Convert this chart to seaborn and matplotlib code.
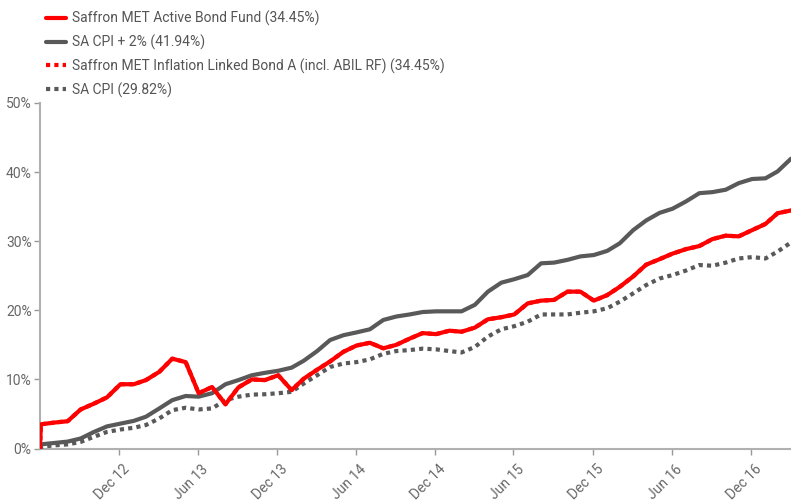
"""
Cumulative performance: Saffron MET Active Bond Fund vs SA CPI benchmarks.
Monthly cumulative returns (%) read off the factsheet chart.
"""

import pandas as pd
import matplotlib
matplotlib.use("Agg")
import matplotlib.pyplot as plt
import matplotlib.ticker as mticker
import matplotlib.transforms as mtrans
import seaborn as sns

# ------------------------------------------------------------------ data
dates = pd.date_range("2012-06-30", "2017-03-31", freq="ME")

active_bond = [3.5, 3.75, 3.95, 5.65, 6.5, 7.4, 9.3, 9.3, 9.9, 11.1,
               13.0, 12.5, 8.0, 8.9, 6.4, 8.85, 10.0, 9.9, 10.6, 8.45,
               10.1, 11.4, 12.6, 14.0, 14.9, 15.3, 14.5, 15.0, 15.9, 16.7,
               16.55, 17.05, 16.9, 17.5, 18.7, 19.0, 19.4, 21.0, 21.4, 21.5,
               22.7, 22.7, 21.4, 22.2, 23.4, 24.9, 26.6, 27.4, 28.2, 28.85,
               29.3, 30.3, 30.8, 30.7, 31.6, 32.5, 34.05, 34.45]

cpi_plus_2 = [0.6, 0.8, 1.0, 1.45, 2.4, 3.2, 3.6, 4.0, 4.6, 5.8,
              7.0, 7.6, 7.5, 8.0, 9.3, 9.9, 10.6, 10.95, 11.25, 11.7,
              12.7, 14.1, 15.7, 16.4, 16.8, 17.25, 18.6, 19.1, 19.4, 19.75,
              19.85, 19.85, 19.85, 20.8, 22.7, 24.0, 24.5, 25.1, 26.8, 26.9,
              27.3, 27.8, 28.0, 28.6, 29.7, 31.6, 33.0, 34.1, 34.7, 35.75,
              36.95, 37.1, 37.45, 38.4, 39.0, 39.1, 40.1, 41.94]

# inflation linked bond tracks the active bond fund exactly (hidden underneath)
inflation_linked = list(active_bond)

sa_cpi = [0.25, 0.45, 0.6, 0.95, 1.7, 2.4, 2.75, 3.0, 3.4, 4.35,
          5.55, 5.9, 5.65, 5.8, 7.0, 7.5, 7.8, 7.85, 8.0, 8.2,
          9.4, 10.6, 11.8, 12.3, 12.5, 12.9, 13.7, 14.1, 14.25, 14.45,
          14.35, 14.1, 13.9, 14.7, 16.2, 17.25, 17.7, 18.35, 19.4, 19.4,
          19.4, 19.65, 19.85, 20.3, 21.25, 22.45, 23.65, 24.6, 25.1, 25.75,
          26.55, 26.45, 26.9, 27.5, 27.7, 27.5, 28.5, 29.82]

# inception point: everything starts from zero
start = pd.Timestamp("2012-06-28")

tick_dates = ["2012-12-28", "2013-06-28", "2013-12-28", "2014-06-28",
              "2014-12-28", "2015-06-28", "2015-12-28", "2016-06-28",
              "2016-12-28"]

series = [
    ("Saffron MET Inflation Linked Bond A (incl. ABIL RF) (34.45%)",
     inflation_linked, "#ff0000", (1, 1), 2),
    ("SA CPI (29.82%)", sa_cpi, "#595959", (1, 1), 3),
    ("SA CPI + 2% (41.94%)", cpi_plus_2, "#595959", "", 4),
    ("Saffron MET Active Bond Fund (34.45%)", active_bond, "#ff0000", "", 5),
]
legend_order = [3, 2, 0, 1]

# ------------------------------------------------------------------ plot
sns.set_theme(style="white")
plt.rcParams["font.family"] = ["Roboto", "DejaVu Sans"]

fig = plt.figure(figsize=(7.91, 5.01), dpi=100)
ax = fig.add_axes([40 / 791, 1 - 448.5 / 501, 751 / 791, 345.5 / 501])

handles = []
for name, vals, color, dash, z in series:
    df = pd.DataFrame({"date": [start] + list(dates), "value": [0.0] + vals})
    sns.lineplot(data=df, x="date", y="value", ax=ax, color=color,
                 linewidth=3, zorder=z, label=name)
    line = ax.get_lines()[-1]
    if dash:
        line.set_dashes(dash)
    handles.append(line)

ax.set_xlim(start, dates[-1])
ax.set_ylim(0, 50)
ax.yaxis.set_major_locator(mticker.MultipleLocator(10))
ax.yaxis.set_major_formatter(mticker.FuncFormatter(lambda v, _: f"{v:.0f}%"))

ticks = pd.to_datetime(tick_dates)
ax.set_xticks(ticks)
ax.set_xticklabels([t.strftime("%b %y") for t in ticks], rotation=45,
                   ha="right", va="top", rotation_mode="anchor")
ax.set_xlabel("")
ax.set_ylabel("")

sns.despine(ax=ax)
for s in ("left", "bottom"):
    ax.spines[s].set_color("#b0b0b0")
    ax.spines[s].set_linewidth(1.5)
ax.tick_params(axis="both", which="major", length=4, width=1, color="#999999",
               labelcolor="#666666", labelsize=10, pad=2, left=True, bottom=True)
ax.tick_params(axis="x", pad=6)

# nudge the rotated date labels so they hang just right of their tick
shift = mtrans.ScaledTranslation(3.5 / 100, 0, fig.dpi_scale_trans)
for lbl in ax.get_xticklabels():
    lbl.set_transform(lbl.get_transform() + shift)

ax.legend([handles[i] for i in legend_order],
          [series[i][0] for i in legend_order],
          loc="upper left", bbox_to_anchor=(46 / 791, 1 - 10.5 / 501),
          bbox_transform=fig.transFigure, frameon=False, fontsize=10,
          handlelength=1.45, handletextpad=0.4, labelspacing=0.62,
          borderpad=0, borderaxespad=0, labelcolor="#555555")

fig.savefig("out.png", dpi=100)
plt.close(fig)
